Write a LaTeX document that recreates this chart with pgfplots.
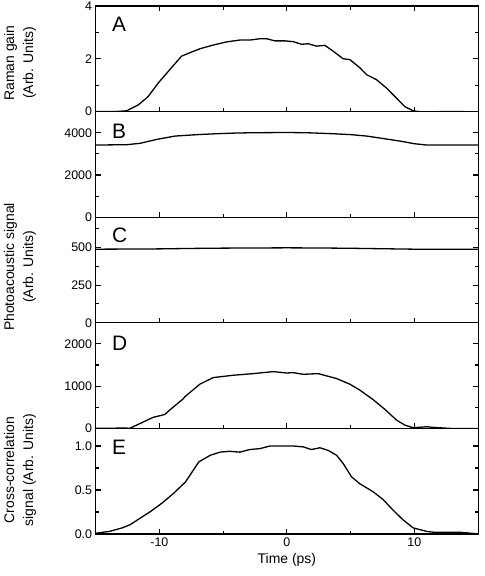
\documentclass[border=0pt]{standalone}
\usepackage{pgfplots}
\pgfplotsset{compat=1.18}
\usepgfplotslibrary{groupplots}
\usetikzlibrary{calc}
\usepackage{fontspec}
\setmainfont{Liberation Sans}
\begin{document}
\begin{tikzpicture}
\begin{groupplot}[
 group style={group size=1 by 5, vertical sep=0pt, xticklabels at=edge bottom},
 width=382.5bp, height=105.6bp, scale only axis,
 xmin=-15, xmax=15,
 xtick={-10,0,10}, minor xtick={-5,5},
 tick align=inside,
 xtick pos=bottom, ytick pos=both,
 major tick length=5bp, minor tick length=3.5bp,
 every tick/.style={line width=1.1bp, black},
 axis line style={line width=1.2bp},
 ticklabel style={font=\fontsize{12.5}{14}\selectfont},
 /pgf/number format/assume math mode=true,
 /pgf/number format/1000 sep={},
 label style={font=\fontsize{14}{19}\selectfont},
 cycle list={{black, mark=none}},
 every axis plot/.append style={line width=1.3bp, line join=round},
 clip=true,
]
% A
\nextgroupplot[ymin=0,ymax=4,ytick={0,2,4},minor ytick={1,3}, xtick pos=both]
\addplot coordinates {
(-15,0) (-13.5,0) (-12.57,0.03) (-11.66,0.25) (-10.88,0.57) (-10.09,1.08) (-9.18,1.59)
(-8.26,2.10) (-7.61,2.23) (-6.82,2.38) (-5.78,2.52) (-4.73,2.64) (-3.69,2.71) (-2.90,2.71)
(-2.12,2.76) (-1.59,2.76) (-0.94,2.68) (-0.16,2.68) (0.50,2.65) (1.15,2.55) (1.67,2.57)
(2.33,2.48) (2.98,2.51) (3.63,2.29) (4.42,2.00) (4.94,1.97) (5.73,1.66) (6.25,1.40)
(7.03,1.21) (7.82,0.89) (8.60,0.51) (9.25,0.19) (9.91,0.03) (10.96,-0.04) (12.0,0.0)
(13.83,0.0) (15.1,-0.05)};
\node[anchor=north west, inner sep=0, font=\fontsize{21}{21}\selectfont] at (rel axis cs:0.043,0.895) {A};
% B
\nextgroupplot[ymin=0,ymax=5000,ytick={0,2000,4000},minor ytick={1000,3000,5000}]
\addplot coordinates {
(-15,3417) (-12.57,3433) (-11.5,3500) (-10.2,3685) (-8.75,3843) (-7,3910) (-5.5,3953)
(-4,3985) (-2.64,4000) (-0.02,4010) (1.5,4000) (3.63,3953) (5,3910) (6.25,3843) (7.5,3730)
(8.86,3606) (10.0,3480) (10.96,3417) (13,3420) (15,3417)};
\node[anchor=north west, inner sep=0, font=\fontsize{21}{21}\selectfont] at (rel axis cs:0.043,0.883) {B};
% C
\nextgroupplot[ymin=0,ymax=700,ytick={0,250,500},minor ytick={125,375,625}]
\addplot coordinates {
(-15,488) (-12,489) (-10,490) (-7.5,493) (-5,495) (-2.5,496) (0,497) (2.5,496) (5,494)
(7.5,491) (10,488) (12.5,488) (15,488)};
\node[anchor=north west, inner sep=0, font=\fontsize{21}{21}\selectfont] at (rel axis cs:0.043,0.905) {C};
% D
\nextgroupplot[ymin=0,ymax=2500,ytick={0,1000,2000},minor ytick={500,1500,2500}]
\addplot coordinates {
(-15,0) (-12.9,8) (-12.3,5) (-11.5,118) (-10.5,260) (-9.57,330) (-9.18,437) (-8.13,700)
(-8.0,750) (-6.82,1047) (-5.78,1203) (-4.21,1258) (-2.64,1297) (-1.07,1344) (-0.03,1312)
(0.50,1320) (1.28,1281) (2.46,1297) (3.90,1180) (4.94,1047) (5.73,906) (6.77,680)
(7.69,450) (8.6,197) (9.25,79) (9.9,16) (10.96,39) (11.5,24) (12.8,0) (15,0)};
\node[anchor=north west, inner sep=0, font=\fontsize{21}{21}\selectfont] at (rel axis cs:0.043,0.877) {D};
% E
\nextgroupplot[ymin=0,ymax=1.2,ytick={0,0.5,1.0},minor ytick={0.25,0.75},
 yticklabel style={/pgf/number format/.cd,fixed,fixed zerofill,precision=1},
 xlabel={Time (ps)}]
\addplot coordinates {
(-15,0.0) (-14.93,0.01) (-13.9,0.03) (-12.9,0.07) (-12.3,0.105) (-11.5,0.18) (-10.7,0.255)
(-9.8,0.35) (-8.9,0.46) (-7.96,0.59) (-6.9,0.82) (-6.0,0.895) (-5.25,0.93) (-4.47,0.94)
(-3.69,0.93) (-2.9,0.96) (-2.12,0.97) (-1.33,1.0) (-0.55,1.0) (0.5,1.0) (1.28,0.99)
(1.93,0.96) (2.59,0.98) (3.24,0.95) (3.9,0.895) (4.42,0.80) (5.07,0.65) (5.73,0.57)
(6.77,0.48) (7.56,0.39) (8.34,0.27) (9.12,0.16) (9.9,0.07) (10.96,0.03) (11.5,0.02)
(13.6,0.02) (15.1,0.0)};
\node[anchor=north west, inner sep=0, font=\fontsize{21}{21}\selectfont] at (rel axis cs:0.043,0.89) {E};
\end{groupplot}
\begin{scope}[font=\fontsize{14}{19}\selectfont]
\node[rotate=90, align=center] at ($(group c1r1.north west)+(-75.6bp,-57bp)$) {Raman gain\\(Arb. Units)};
\node[rotate=90, align=center] at ($(group c1r1.north west)+(-75.6bp,-261bp)$) {Photoacoustic signal\\(Arb. Units)};
\node[rotate=90, align=center] at ($(group c1r1.north west)+(-75.6bp,-464bp)$) {Cross-correlation\\signal (Arb. Units)};
\end{scope}
\pgfresetboundingbox
\path ($(group c1r1.north west)+(-95.6bp,6bp)$) rectangle ($(group c1r5.south east)+(5.9bp,-42bp)$);
\end{tikzpicture}
\end{document}
